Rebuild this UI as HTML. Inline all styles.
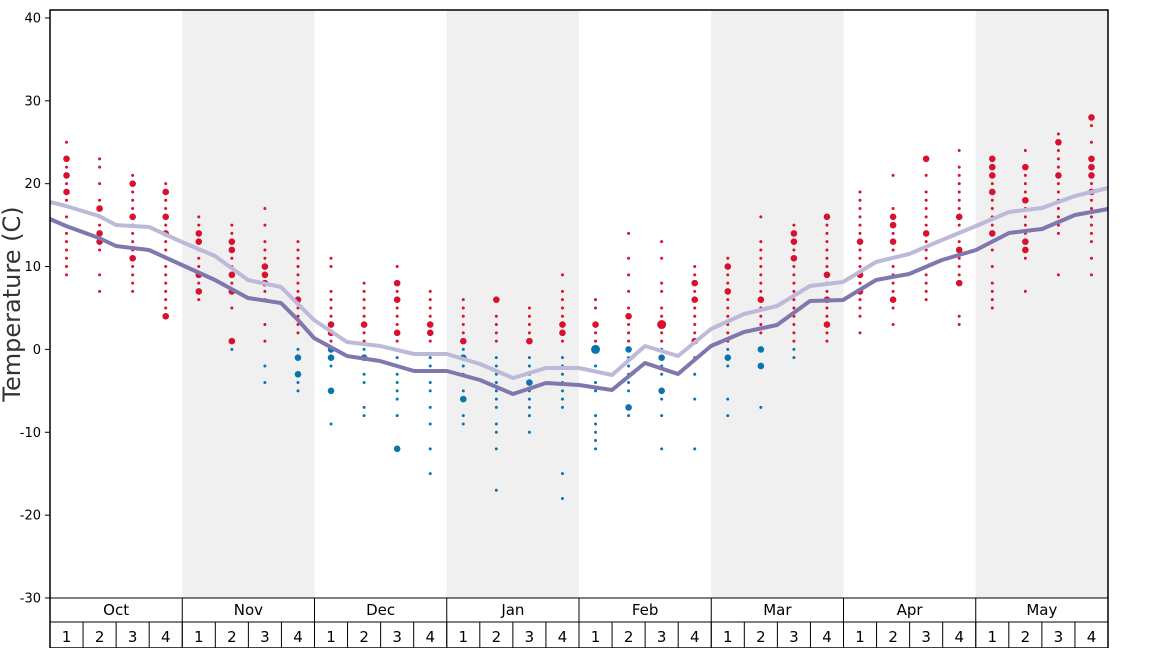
<!DOCTYPE html>
<html><head><meta charset="utf-8"><style>
body{margin:0;background:#fff}
svg{display:block;font-family:"DejaVu Sans","Liberation Sans",sans-serif}
</style></head><body>
<svg id="s" width="1168" height="648" xmlns="http://www.w3.org/2000/svg">
<g id="bg"></g>
<g id="dots"></g>
<g id="lines"></g>
<g id="axes" stroke="#000" fill="none"></g>
<g id="txt" fill="#000"></g>
<text x="0" y="0" transform="translate(20,304) rotate(-90)" text-anchor="middle" font-size="24" fill="#333">Temperature (C)</text>
</svg>
<script>
const NS="http://www.w3.org/2000/svg";
function el(p,t,a,txt){const e=document.createElementNS(NS,t);for(const k in a)e.setAttribute(k,a[k]);if(txt!==undefined)e.textContent=txt;document.getElementById(p).appendChild(e);return e;}
const X0=50,X1=1108,mw=(X1-X0)/8,ww=mw/4;
const Y=t=>349.4-t*8.2857;
// shading
for(let m=1;m<8;m+=2)el("bg","rect",{x:X0+m*mw,y:10,width:mw,height:588,fill:"#f0f0f0"});
// dots
const D=[
[[25,23,22,21,20,19,18,16,14,13,12,11,10,9],[23,21,19]],
[[23,22,20,18,17,16,15,14,13,12,9,7],[17,14,13]],
[[21,20,19,18,17,16,15,14,13,12,11,10,9,8,7],[20,16,11]],
[[20,19,18,17,16,15,14,13,12,11,10,9,8,7,6,5,4],[19,16,14,4]],
[[16,15,14,13,12,11,10,9,8,7,6],[14,13,9,7]],
[[15,14,13,12,11,10,9,8,7,5,1,0],[12,13,9,1,7]],
[[17,15,13,12,11,10,9,8,7,6,3,1,-2,-4],[10,9,8]],
[[13,12,11,10,9,8,7,6,5,4,3,2,0,-1,-3,-4,-5],[6,-1,-3]],
[[11,10,7,6,5,4,3,2,1,0,-1,-2,-5,-9],[3,2,0,-1,-5]],
[[8,7,6,5,4,3,2,1,0,-1,-3,-4,-7,-8],[3,-1]],
[[10,8,7,6,5,4,3,2,1,0,-1,-2,-3,-4,-5,-6,-8,-12],[8,6,2,-12]],
[[7,6,5,4,3,2,1,-1,-2,-4,-5,-7,-9,-12,-15],[3,2]],
[[6,5,4,3,2,1,0,-1,-2,-3,-5,-6,-8,-9],[1,-1,-6]],
[[6,4,3,2,1,-1,-2,-3,-4,-5,-6,-7,-9,-10,-12,-17],[6]],
[[5,4,3,2,1,-1,-2,-3,-4,-5,-6,-7,-8,-10],[1,-4]],
[[9,7,6,5,4,3,2,1,-1,-2,-3,-4,-5,-6,-7,-15,-18],[3,2]],
[[6,5,3,2,1,0,-2,-4,-5,-8,-9,-10,-11,-12],[0,3]],
[[14,11,9,7,5,4,3,2,1,0,-1,-2,-3,-4,-5,-7,-8],[4,0,-7]],
[[13,11,8,7,5,4,3,2,1,0,-1,-2,-3,-5,-6,-8,-12],[3,-1,-5]],
[[10,9,8,7,6,5,4,3,2,1,-1,-3,-6,-12],[8,6,1]],
[[11,10,9,8,7,6,5,4,3,2,1,0,-1,-2,-6,-8],[10,7,-1]],
[[16,13,12,11,10,9,8,7,6,5,4,3,2,0,-2,-7],[6,-2,0]],
[[15,14,13,12,11,10,9,8,7,6,5,4,3,2,1,0,-1],[13,11,14]],
[[16,15,14,13,12,11,10,9,8,7,6,5,4,3,2,1],[9,6,16,3]],
[[19,18,17,16,15,14,13,12,11,10,9,8,7,6,5,4,2],[13,9,7]],
[[21,17,16,15,14,13,12,11,10,9,8,7,6,5,3],[16,13,15,6]],
[[23,21,19,18,17,16,15,14,13,12,11,10,9,8,7,6],[23,14]],
[[24,22,21,20,19,18,17,16,15,14,13,12,11,10,9,8,4,3],[16,12,8]],
[[23,22,21,20,19,18,17,16,15,14,13,12,10,8,7,6,5],[23,22,21,19,14]],
[[24,22,21,20,19,18,17,16,15,14,13,12,11,7],[22,18,13,12]],
[[26,25,24,23,22,21,20,19,18,17,16,15,14,9],[25,21]],
[[28,27,25,23,22,21,20,19,18,17,16,15,14,13,11,9],[28,22,23,21,19]]];
D.forEach((w,i)=>{const cx=X0+ww*(i+0.5);
 w[0].forEach(t=>{if(w[1].includes(t))return;el("dots","circle",{cx,cy:Y(t),r:1.5,fill:t>0?"#d7112e":"#0a74b0"});});
 w[1].forEach(t=>el("dots","circle",{cx,cy:Y(t),r:(i==16&&t==0)||(i==18&&t==3)?4.5:3.3,fill:t>0?"#d7112e":"#0a74b0"}));
});
// lines
const L=[202,206,212,218,225,227,236,246,256,268,279,286,298,320,334,342,346,352,354,354,360,368,378,368,368,372,375,358,346,352,356,329,318,309,303,291,283,281,270,262,255,248,240,232,224,212,210,203,196,190];
function poly(ys,stroke,w){const xs=[X0];for(let i=0;i<32;i++)xs.push(X0+ww*(i+0.5));xs.push(X1);return ys;}
const light=[202,207,216,225,228,236,248,263,278,287,305,328,342,346,351,354,354,360,368,378,369,369,375,346,356,329,314,306,286,282,262,254,240,226,212,208,196,188];
const dark=[219,226,238,246,250,256,265,280,298,303,315,338,356,361,371,371,376,385,394,383,385,390,363,374,346,332,325,301,300,280,274,260,250,233,229,215,209];
function pts(ys){const n=ys.length;return ys.map((y,i)=>(X0+(X1-X0)*i/(n-1)).toFixed(1)+","+y).join(" ");}
// use week-centered vertices
function wpts(ys){const xs=[X0];for(let i=0;i<32;i++)xs.push(X0+ww*(i+0.5));xs.push(X1);
 // interpolate ys (len arbitrary) onto xs via index scaling
 return xs.map((x,i)=>{const f=i/(xs.length-1)*(ys.length-1);const a=Math.floor(f),b=Math.min(a+1,ys.length-1);return x.toFixed(1)+","+(ys[a]+(ys[b]-ys[a])*(f-a)).toFixed(1);}).join(" ");}
const LW=[202,207,212,217,225,227,232,243,254,266,279,285,290,319,335,343,346,350,354,354,359,366,378,368,368,371,375,346,352,356,340,327,316,309,303,289,283,281,271,262,256,250,240,233,226,212,210,203,195,188];
el("lines","polyline",{points:[50+",202",66+",206",99+",216",116+",225",132+",226",149+",227",182+",242",215+",256",248+",280",281+",287",314+",320",347+",342",380+",346",414+",354",447+",354",480+",364",513+",378",546+",368",579+",368",612+",375",645+",346",678+",356",711+",329",744+",314",777+",306",810+",286",843+",282",876+",262",909+",254",942+",240",976+",226",1009+",212",1042+",208",1075+",196",1108+",188"].join(" "),fill:"none",stroke:"#bdb9d9","stroke-width":4,"stroke-linejoin":"round"});
el("lines","polyline",{points:[50+",219",66+",226",99+",238",116+",246",149+",250",182+",265",215+",280",248+",298",281+",303",298+",320",314+",338",347+",356",380+",361",414+",371",447+",371",480+",380",513+",394",546+",383",579+",385",612+",390",645+",363",678+",374",711+",346",744+",332",777+",325",810+",301",843+",300",876+",280",909+",274",942+",260",976+",250",1009+",233",1042+",229",1075+",215",1108+",209"].join(" "),fill:"none",stroke:"#7f77ad","stroke-width":4,"stroke-linejoin":"round"});
// axes
el("axes","rect",{x:50,y:10,width:1058,height:638,"stroke-width":1.5});
for(let t=-30;t<=40;t+=10){el("axes","line",{x1:45,x2:50,y1:Y(t),y2:Y(t)});el("txt","text",{x:41,y:Y(t)+4.5,"text-anchor":"end","font-size":13},t);}
el("axes","line",{x1:50,x2:1108,y1:598,y2:598});
el("axes","line",{x1:50,x2:1108,y1:622,y2:622});
const M=["Oct","Nov","Dec","Jan","Feb","Mar","Apr","May"];
M.forEach((m,i)=>{const x=X0+i*mw;el("axes","line",{x1:x,x2:x,y1:598,y2:648});
 el("txt","text",{x:x+mw/2,y:615,"text-anchor":"middle","font-size":15},m);
 for(let k=0;k<4;k++){const wx=x+k*ww;el("axes","line",{x1:wx,x2:wx,y1:622,y2:648});el("txt","text",{x:wx+ww/2,y:642,"text-anchor":"middle","font-size":15},k+1);}
});
</script>
</body></html>
